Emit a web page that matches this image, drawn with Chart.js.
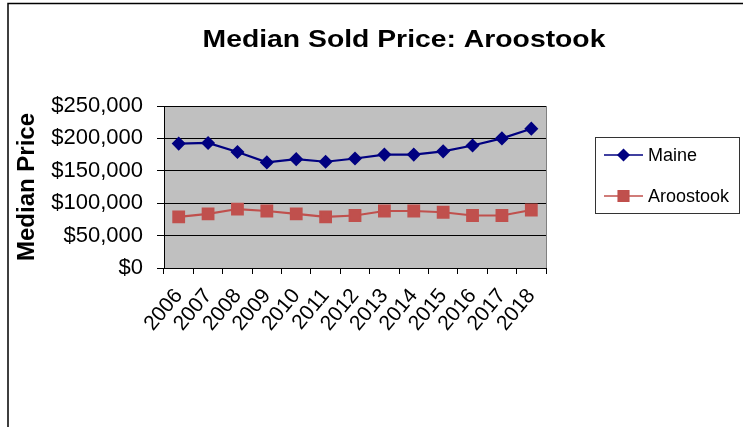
<!DOCTYPE html>
<html>
<head>
<meta charset="utf-8">
<script src="https://cdn.jsdelivr.net/npm/chart.js@4"></script>
<style>
  html, body { margin: 0; padding: 0; background: #fff; }
  #wrap { position: relative; width: 743px; height: 427px; }
</style>
</head>
<body>
<div id="wrap"><canvas id="c"></canvas></div>
<script>
const chartTitle = 'Median Sold Price: Aroostook';
const yAxisTitle = 'Median Price';
const years = ['2006','2007','2008','2009','2010','2011','2012','2013','2014','2015','2016','2017','2018'];
const maineValues = [192000, 193000, 179000, 163000, 168000, 164000, 169000, 175000, 175000, 180000, 189000, 200000, 215000];
const aroostookValues = [79000, 83500, 91000, 88000, 83500, 79000, 81000, 88000, 88000, 86000, 81000, 81000, 89500];
const yTickValues = [0, 50000, 100000, 150000, 200000, 250000];

const FONT = '"Liberation Sans", Arial, sans-serif';

const decor = {
  id: 'decor',
  beforeDraw(chart) {
    const {ctx, chartArea: a} = chart;
    ctx.save();
    ctx.fillStyle = '#c0c0c0';
    ctx.fillRect(a.left, a.top, a.right - a.left, a.bottom - a.top);
    ctx.strokeStyle = '#808080';
    ctx.lineWidth = 1;
    ctx.beginPath();
    ctx.moveTo(a.right + 0.5, a.top);
    ctx.lineTo(a.right + 0.5, a.bottom);
    ctx.stroke();
    // outer frame
    ctx.strokeStyle = '#000';
    ctx.lineWidth = 1.5;
    ctx.beginPath();
    ctx.moveTo(8, 427);
    ctx.lineTo(8, 3.5);
    ctx.lineTo(743, 3.5);
    ctx.stroke();
    ctx.restore();
  },
  afterDraw(chart) {
    const {ctx} = chart;
    ctx.save();
    // title (horizontally widened like the reference)
    ctx.font = 'bold 24px ' + FONT;
    ctx.fillStyle = '#000';
    ctx.textBaseline = 'alphabetic';
    ctx.textAlign = 'center';
    ctx.translate(404, 47);
    ctx.scale(1.18, 1.02);
    ctx.fillText(chartTitle, 0, 0);
    ctx.restore();

    // legend
    ctx.save();
    ctx.strokeStyle = '#333';
    ctx.lineWidth = 1;
    ctx.strokeRect(595.5, 137.5, 144, 76);
    const rows = [155, 196];
    chart.data.datasets.forEach((ds, i) => {
      const y = rows[i];
      ctx.strokeStyle = ds.borderColor;
      ctx.lineWidth = 1.5;
      ctx.beginPath();
      ctx.moveTo(604, y);
      ctx.lineTo(643, y);
      ctx.stroke();
      Chart.helpers.drawPoint(ctx, {
        pointStyle: ds.pointStyle, radius: ds.pointRadius, rotation: 0, borderWidth: 1
      }, 623.5, y);
      ctx.fillStyle = ds.pointBackgroundColor;
      ctx.fill();
      ctx.fillStyle = '#000';
      ctx.font = '18px ' + FONT;
      ctx.textAlign = 'left';
      ctx.textBaseline = 'middle';
      ctx.fillText(ds.label, 648, y + 1);
    });
    ctx.restore();
  }
};

new Chart(document.getElementById('c'), {
  type: 'line',
  data: {
    labels: years,
    datasets: [
      {
        label: 'Maine',
        data: maineValues,
        borderColor: '#000080',
        backgroundColor: '#000080',
        pointBackgroundColor: '#000080',
        pointBorderColor: '#000080',
        pointStyle: 'rectRot',
        pointRadius: 5.5,
        pointHoverRadius: 5.5,
        borderWidth: 2.2,
        tension: 0
      },
      {
        label: 'Aroostook',
        data: aroostookValues,
        borderColor: '#c0504d',
        backgroundColor: '#c0504d',
        pointBackgroundColor: '#c0504d',
        pointBorderColor: '#c0504d',
        pointStyle: 'rect',
        pointRadius: 7.5,
        pointHoverRadius: 7.5,
        borderWidth: 2.2,
        tension: 0
      }
    ]
  },
  options: {
    responsive: true,
    maintainAspectRatio: false,
    animation: false,
    events: [],
    layout: { padding: { left: 0, top: 106, right: 197, bottom: 0 } },
    plugins: {
      legend: { display: false },
      title: { display: false },
      tooltip: { enabled: false }
    },
    scales: {
      x: {
        type: 'category',
        offset: true,
        grid: { offset: true, drawOnChartArea: false, drawTicks: true, tickLength: 6, color: '#000', lineWidth: 1 },
        border: { color: '#000', width: 1 },
        ticks: {
          autoSkip: false,
          minRotation: 50,
          maxRotation: 50,
          padding: 10,
          color: '#000',
          font: { family: FONT, size: 21 }
        },
        afterFit(scale) { scale.height = 427 - 268; }
      },
      y: {
        min: 0,
        max: 250000,
        afterBuildTicks(scale) { scale.ticks = yTickValues.map(v => ({ value: v })); },
        grid: { color: '#000', lineWidth: 1, tickLength: 7, drawTicks: true },
        border: { color: '#000', width: 1 },
        ticks: {
          padding: 14,
          color: '#000',
          font: { family: FONT, size: 22 },
          callback: v => '$' + Number(v).toLocaleString('en-US')
        },
        title: {
          display: true,
          text: yAxisTitle,
          color: '#000',
          font: { family: FONT, size: 24, weight: 'bold' },
          padding: { top: 13, bottom: 0 }
        },
        afterFit(scale) { scale.width = 164; }
      }
    }
  },
  plugins: [decor]
});
</script>
</body>
</html>
